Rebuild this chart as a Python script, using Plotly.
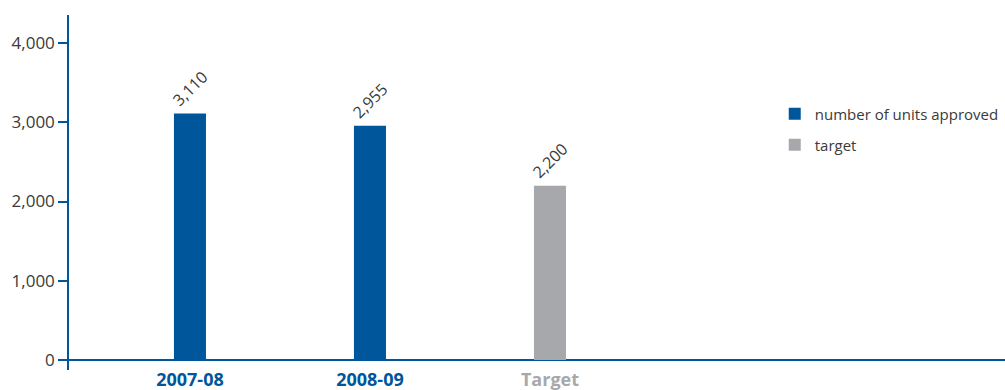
import plotly.graph_objects as go

# Units approved per year versus the target
categories = ["2007-08", "2008-09", "Target"]
approved_years = ["2007-08", "2008-09"]
approved_values = [3110, 2955]
target_years = ["Target"]
target_values = [2200]
y_ticks = [0, 1000, 2000, 3000, 4000]
y_tick_labels = ["0", "1,000", "2,000", "3,000", "4,000"]

BLUE = "#00569A"
GREY = "#A7A8AB"
TEXT = "#3a3a3a"
FONT = "Open Sans, sans-serif"

label_colors = {"2007-08": BLUE, "2008-09": BLUE, "Target": GREY}
x_tick_text = [f'<span style="color:{label_colors[c]}"><b>{c}</b></span>' for c in categories]

bar_text_font = dict(size=16, color=TEXT, family=FONT)

fig = go.Figure()
fig.add_trace(go.Bar(
    x=approved_years, y=approved_values, name="number of units approved",
    marker=dict(color=BLUE, line=dict(width=0)), width=0.178,
    text=[f"{v:,}" for v in approved_values], textposition="outside",
    textangle=-45, textfont=bar_text_font, constraintext="none",
    cliponaxis=False, legend="legend",
))
fig.add_trace(go.Bar(
    x=target_years, y=target_values, name="target",
    marker=dict(color=GREY, line=dict(width=0)), width=0.178,
    text=[f"{v:,}" for v in target_values], textposition="outside",
    textangle=-45, textfont=bar_text_font, constraintext="none",
    cliponaxis=False, legend="legend2",
))

legend_common = dict(
    xanchor="left", yanchor="middle",
    bgcolor="rgba(0,0,0,0)", borderwidth=0,
    font=dict(size=15, color=TEXT, family=FONT),
    itemwidth=30,
)

fig.update_layout(
    width=1005, height=390,
    margin=dict(l=69, r=0, t=15, b=20, autoexpand=False),
    paper_bgcolor="white", plot_bgcolor="white",
    barmode="overlay",
    font=dict(family=FONT, color=TEXT, size=16),
    showlegend=True,
    legend=dict(x=0.754, y=0.721, **legend_common),
    legend2=dict(x=0.754, y=0.634, **legend_common),
    xaxis=dict(
        type="category", categoryorder="array", categoryarray=categories,
        range=[-0.672, 4.528], automargin=False,
        tickmode="array", tickvals=categories, ticktext=x_tick_text,
        tickfont=dict(size=18, family=FONT),
        showline=False, showgrid=False, zeroline=False, ticks="",
        ticklabelstandoff=-3,
    ),
    yaxis=dict(
        range=[-126, 4353], automargin=False,
        tickmode="array", tickvals=y_ticks, ticktext=y_tick_labels,
        tickfont=dict(size=17, color=TEXT, family=FONT),
        showline=True, linecolor=BLUE, linewidth=1.5,
        ticks="outside", ticklen=9, tickcolor=BLUE, tickwidth=1.5,
        showgrid=False,
        zeroline=True, zerolinecolor=BLUE, zerolinewidth=1.5,
    ),
)

fig.write_html("out.html")
